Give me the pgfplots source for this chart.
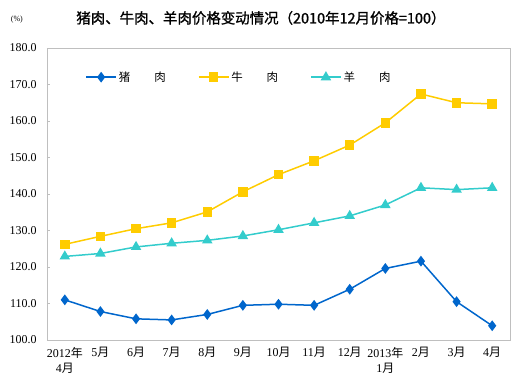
\documentclass[border=0pt]{standalone}
\usepackage{fontspec}
\setmainfont{Liberation Serif}
\newfontfamily\cjk{Noto Sans CJK SC}
\newfontfamily\cjkb[FakeBold=1.2]{Noto Sans CJK SC}
\usepackage{pgfplots}
\pgfplotsset{compat=1.18}
\definecolor{pork}{HTML}{0066CC}
\definecolor{beef}{HTML}{FFCC00}
\definecolor{mutton}{HTML}{33CCCC}
\definecolor{frame}{HTML}{BFBFBF}
\begin{document}
\begin{tikzpicture}
\path[use as bounding box] (-47bp,-46bp) rectangle (474bp,340bp);
\begin{axis}[
  at={(0,0)}, anchor=south west,
  scale only axis, width=463bp, height=292bp,
  xmin=-0.5, xmax=12.5, ymin=100, ymax=180,
  xtick={0,...,12},
  xticklabels={{2012{\cjk 年}\\4{\cjk 月}},5{\cjk 月},6{\cjk 月},7{\cjk 月},8{\cjk 月},9{\cjk 月},10{\cjk 月},11{\cjk 月},12{\cjk 月},{2013{\cjk 年}\\1{\cjk 月}},2{\cjk 月},3{\cjk 月},4{\cjk 月}},
  xticklabel style={align=center, font=\fontsize{12}{15}\selectfont, anchor=north, yshift=-4bp},
  ytick={100,110,...,180},
  yticklabel style={font=\fontsize{12}{14}\selectfont, /pgf/number format/.cd, fixed, fixed zerofill, precision=1, assume math mode=true},
  yticklabel shift=7bp,
  xtick style={draw=none},
  ytick pos=left, tick align=inside,
  major tick length=3bp,
  ytick style={draw=frame},
  axis line style={draw=frame, line width=0.8bp},
  legend columns=3,
  legend style={draw=none, fill=none, at={(axis description cs:0.076,0.90)}, anchor=west,
    font=\fontsize{11.5}{13}\selectfont, /tikz/every even column/.append style={column sep=30bp}},
  legend image code/.code={\draw[mark repeat=2,mark phase=2] plot coordinates {(0bp,0bp)(15bp,0bp)(30bp,0bp)};},
  clip=false,
]
\addplot[pork, line width=1.5bp, mark=diamond*, mark size=4.2bp, mark options={fill=pork}] coordinates {
(0,111.0)(1,107.8)(2,105.8)(3,105.5)(4,107.0)(5,109.5)(6,109.8)(7,109.5)(8,113.9)(9,119.6)(10,121.6)(11,110.5)(12,103.9)};
\addlegendentry{\cjk 猪\hspace{24bp}肉}
\addplot[beef, line width=1.5bp, mark=square*, mark size=4bp, mark options={fill=beef}] coordinates {
(0,126.2)(1,128.4)(2,130.5)(3,132.1)(4,135.1)(5,140.6)(6,145.3)(7,149.1)(8,153.4)(9,159.5)(10,167.4)(11,165.0)(12,164.7)};
\addlegendentry{\cjk 牛\hspace{24bp}肉}
\addplot[mutton, line width=1.5bp, mark=triangle*, mark size=4.6bp, mark options={fill=mutton}] coordinates {
(0,122.9)(1,123.7)(2,125.5)(3,126.5)(4,127.3)(5,128.5)(6,130.2)(7,132.1)(8,134.0)(9,137.0)(10,141.7)(11,141.2)(12,141.7)};
\addlegendentry{\cjk 羊\hspace{24bp}肉}
\node[font=\cjkb\fontsize{14.5}{16}\selectfont] at (axis description cs:0.462,1.103) {猪肉、牛肉、羊肉价格变动情况（2010年12月价格=100）};
\node[font=\fontsize{8}{10}\selectfont] at (axis description cs:-0.065,1.096) {(\%)};
\end{axis}
\end{tikzpicture}
\end{document}
